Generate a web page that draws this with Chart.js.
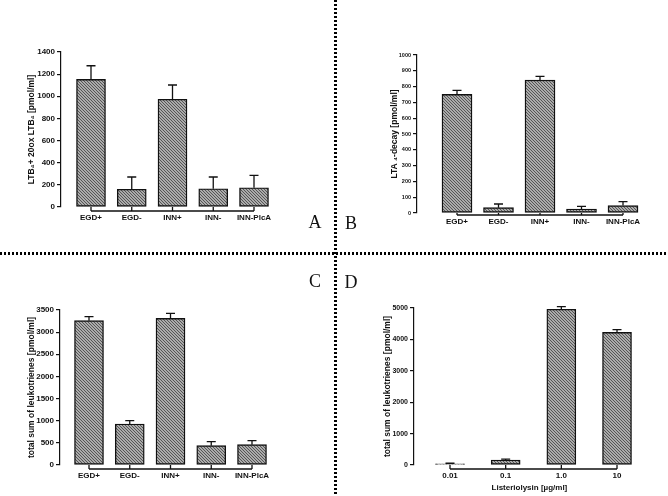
<!DOCTYPE html>
<html><head><meta charset="utf-8">
<script src="https://cdn.jsdelivr.net/npm/chart.js@4.4.1/dist/chart.umd.min.js"></script>
<style>
body{margin:0;background:#fff;width:668px;height:496px;overflow:hidden;position:relative}
canvas{position:absolute;left:0;top:0}
.vl{position:absolute;left:334px;top:0;width:3px;height:496px;background:repeating-linear-gradient(to bottom,#000 0 2px,transparent 2px 4px)}
.hl{position:absolute;left:0;top:252px;height:3px;width:668px;background:repeating-linear-gradient(to right,#000 0 2px,transparent 2px 4px)}
.lt{position:absolute;font-family:'Liberation Serif','DejaVu Serif',serif;font-size:18px;line-height:1;transform:translate(-50%,-50%);color:#111}
</style></head>
<body>
<canvas id="cA" width="668" height="496"></canvas>
<canvas id="cB" width="668" height="496"></canvas>
<canvas id="cC" width="668" height="496"></canvas>
<canvas id="cD" width="668" height="496"></canvas>
<div class="vl"></div><div class="hl"></div>
<div class="lt" style="left:315px;top:222px">A</div>
<div class="lt" style="left:351px;top:223px">B</div>
<div class="lt" style="left:315px;top:281px">C</div>
<div class="lt" style="left:351px;top:282px">D</div>
<script>
// ---- data ----
const groupLabels = ['EGD+','EGD-','INN+','INN-','INN-PlcA'];
const panelAValues = [1153,160,973,165,174];
const panelAErrors = [123,111,129,106,112];
const panelBValues = [751,34,841,25,47];
const panelBErrors = [25,23,24,17,25];
const panelCValues = [3260,926,3312,437,460];
const panelCErrors = [90,76,113,91,91];
const doseLabels = ['0.01','0.1','1.0','10'];
const panelDValues = [40,160,4960,4225];
const panelDErrors = [15,25,85,85];
const panelAYTicks = [0,200,400,600,800,1000,1200,1400];
const panelBYTicks = [0,100,200,300,400,500,600,700,800,900,1000];
const panelCYTicks = [0,500,1000,1500,2000,2500,3000,3500];
const panelDYTicks = [0,1000,2000,3000,4000,5000];

Chart.defaults.font.family = "'Liberation Sans', Arial, sans-serif";
Chart.defaults.font.weight = 'bold';
Chart.defaults.font.size = 8;
Chart.defaults.color = '#111';

function hatch(){
  const c = document.createElement('canvas'); c.width = 6; c.height = 6;
  const g = c.getContext('2d');
  g.fillStyle = '#ababab'; g.fillRect(0,0,6,6);
  g.fillStyle = '#555555';
  for(let y=0;y<6;y++) for(let x=0;x<6;x++) if(((x - y) % 3 + 3) % 3 === 0) g.fillRect(x,y,1,1);
  return g.createPattern(c,'repeat');
}

const decor = {
  id:'decor',
  afterDatasetsDraw(chart, args, o){
    const ctx = chart.ctx, xs = chart.scales.x, ys = chart.scales.y;
    ctx.save(); ctx.strokeStyle = '#111'; ctx.lineWidth = 1.3;
    o.values.forEach((v,i)=>{
      const e = o.errors[i];
      const x = xs.getPixelForValue(i);
      const y0 = ys.getPixelForValue(v), y1 = ys.getPixelForValue(v+e);
      ctx.beginPath(); ctx.moveTo(x,y0); ctx.lineTo(x,y1);
      ctx.moveTo(x-4.5,y1); ctx.lineTo(x+4.5,y1); ctx.stroke();
    });
    const yb = ys.getPixelForValue(0), ay = yb + o.gap;
    ctx.beginPath();
    ctx.moveTo(xs.getPixelForValue(0), ay); ctx.lineTo(xs.getPixelForValue(o.values.length-1), ay);
    for(let i=0;i<o.values.length;i++){ const x = xs.getPixelForValue(i); ctx.moveTo(x,ay); ctx.lineTo(x,yb); }
    ctx.stroke(); ctx.restore();
  }
};

function panel(id, g, labels, values, errors, yTicks, yTitle, xTitle){
  const n = labels.length, Wy = 45, Hx = 30;
  const min = -(g.x0 - g.L)/g.dx, max = n - 0.5;
  const R = g.x0 + (n-1)*g.dx + g.dx/2;
  new Chart(document.getElementById(id), {
    type:'bar',
    data:{datasets:[{
      data: values.map((v,i)=>({x:i,y:v})),
      backgroundColor: hatch(), borderColor:'#111', borderWidth:1.4, borderSkipped:false,
      barThickness: g.bw
    }]},
    plugins:[decor],
    options:{
      responsive:false, animation:false, devicePixelRatio:1,
      layout:{padding:{left:g.L-Wy, right:668-R, top:g.T, bottom:496-g.B-Hx}},
      plugins:{legend:{display:false}, tooltip:{enabled:false},
        decor:{values, errors, gap:g.gap}},
      scales:{
        x:{type:'linear', min, max, offset:false,
          afterFit:s=>{s.height=Hx;},
          afterBuildTicks:s=>{s.ticks = labels.map((_,i)=>({value:i}));},
          grid:{display:false, drawTicks:false}, border:{display:false},
          ticks:{autoSkip:false, maxRotation:0, padding:g.lp, callback:v=>labels[v], font:{size:8,weight:'bold'}},
          title:{display:!!xTitle, text:xTitle||'', padding:{top:0,bottom:2.6}, font:{size:8,weight:'bold'}}
        },
        y:{min:0, max:yTicks[yTicks.length-1],
          afterFit:s=>{s.width=Wy;},
          afterBuildTicks:s=>{s.ticks = yTicks.map(v=>({value:v}));},
          grid:{drawOnChartArea:false, drawTicks:true, tickLength:4, color:'#111', lineWidth:1.2},
          border:{display:true, color:'#111', width:1.2},
          ticks:{padding:2, callback:v=>String(v), font:{size:g.yf,weight:'bold'}},
          title:{display:true, text:yTitle, padding:{top:g.tp,bottom:0}, font:{size:8.5,weight:'bold'}}
        }
      }
    }
  });
}

panel('cA', {L:61,T:52,B:207,x0:91,dx:40.75,bw:29,gap:4,lp:6,tp:11,yf:8}, groupLabels, panelAValues, panelAErrors, panelAYTicks, 'LTB\u2084+ 20ox LTB\u2084 [pmol/ml]');
panel('cB', {L:417,T:55,B:213,x0:457,dx:41.5,bw:30,gap:2,lp:4,tp:17.5,yf:5.5}, groupLabels, panelBValues, panelBErrors, panelBYTicks, 'LTA \u2084-decay [pmol/ml]');
panel('cC', {L:60,T:310,B:465,x0:89,dx:40.75,bw:29,gap:4,lp:6,tp:12,yf:8}, groupLabels, panelCValues, panelCErrors, panelCYTicks, 'total sum of leukotrienes [pmol/ml]');
panel('cD', {L:414,T:308,B:465,x0:450,dx:55.67,bw:29,gap:4,lp:6,tp:13.5,yf:7}, doseLabels, panelDValues, panelDErrors, panelDYTicks, 'total sum of leukotrienes [pmol/ml]', 'Listeriolysin [\u00b5g/ml]');
</script>
</body></html>
